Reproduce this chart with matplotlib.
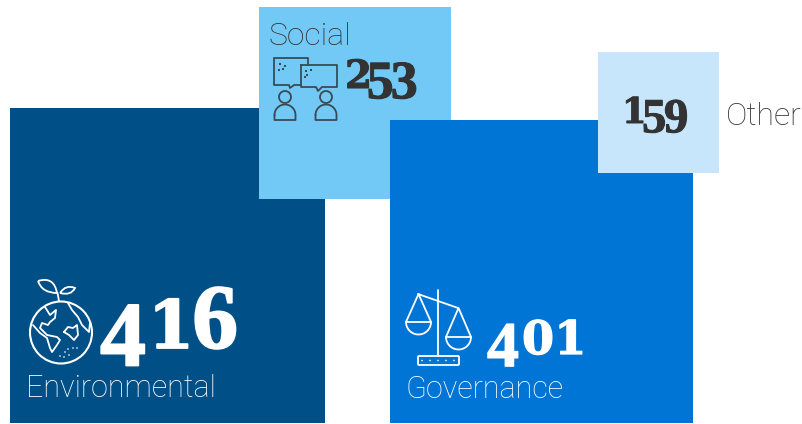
import numpy as np
import matplotlib
matplotlib.use('Agg')
import matplotlib.pyplot as plt
import matplotlib.patheffects as pe
from matplotlib.patches import Circle, Rectangle, FancyBboxPatch, PathPatch
from matplotlib.path import Path

categories = ['Environmental', 'Social', 'Governance', 'Other']
values = [416, 253, 401, 159]

colors = ['#005087', '#72C9F6', '#0075D6', '#C7E6FB']
label_colors = ['white', '#333333', 'white', '#333333']
number_colors = ['white', '#333333', 'white', '#333333']

W, H = 803, 424
PX_PER_UNIT = 0.757

# left edge and bottom edge of each square, in pixels from the top left
square_left = [10, 259, 389.6, 598.3]
square_bottom = [423, 199, 423.3, 172.7]

# label x, label baseline, font size
label_pos = [(26, 397, 22), (269, 45, 23), (406, 398, 22), (726, 125, 23)]
# number x, number baseline, number em in px, tracking
number_pos = [(100, 348, 92, 2), (345, 88, 54, -3), (487, 354, 64, 3), (622, 123, 49, -2.5)]

fig = plt.figure(figsize=(W / 100, H / 100), dpi=100)

# squares are drawn in value units
ax = fig.add_axes([0, 0, 1, 1])
ax.set_xlim(0, W / PX_PER_UNIT)
ax.set_ylim(0, H / PX_PER_UNIT)
ax.axis('off')
for i in range(len(values)):
    ax.bar(square_left[i] / PX_PER_UNIT, values[i], width=values[i],
           bottom=(H - square_bottom[i]) / PX_PER_UNIT, align='edge',
           color=colors[i], linewidth=0, zorder=i + 1)

# text and icons go on an overlay in pixels
ov = fig.add_axes([0, 0, 1, 1])
ov.set_xlim(0, W)
ov.set_ylim(H, 0)
ov.axis('off')
ov.patch.set_alpha(0)


def draw_number(value, x, base, em, track, color):
    # old style figures: 0 1 2 are short, 3 4 5 7 9 hang below the line
    thick = [pe.withStroke(linewidth=em / 70, foreground=color)]
    for d in str(value):
        if d in '012':
            size = em * 0.72
            ov.text(x, base, d, fontsize=size * 0.72, family='DejaVu Serif', fontweight='bold',
                    color=color, ha='left', va='baseline', path_effects=thick)
            x += size * 0.636 + track
        else:
            y = base + em * 0.19 if d in '34579' else base
            ov.text(x, y, d, fontsize=em * 0.72, family='Liberation Serif', fontweight='bold',
                    color=color, ha='left', va='baseline', path_effects=thick)
            x += em * 0.5 + track


for i in range(len(values)):
    lx, ly, fs = label_pos[i]
    ov.text(lx, ly, categories[i], family='Roboto', fontweight='light',
            fontsize=fs, color=label_colors[i], ha='left', va='baseline')
    n = number_pos[i]
    draw_number(values[i], n[0], n[1], n[2], n[3], number_colors[i])


def line(xs, ys, color, lw=1.3):
    ov.plot(xs, ys, color=color, lw=lw, solid_capstyle='round', solid_joinstyle='round')


def leaf(a, ctrl1, b, ctrl2, color):
    codes = [Path.MOVETO, Path.CURVE3, Path.CURVE3, Path.CURVE3, Path.CURVE3]
    ov.add_patch(PathPatch(Path([a, ctrl1, b, ctrl2, a], codes), fill=False, ec=color, lw=1.3))


# globe
c = 'white'
ov.add_patch(Circle((61, 332.5), 31, fill=False, ec=c, lw=1.5))
line([59, 57.5], [301, 293], c)
leaf((38, 281), (54, 276), (57, 293), (42, 293), c)
leaf((60, 293), (66, 284), (75, 288), (71, 296), c)
line([45, 50, 56, 55, 50, 48, 42, 40, 47, 57, 60, 57, 52, 50, 47, 40, 33],
     [307, 315, 310, 318, 322, 325, 323, 328, 335, 337, 340, 345, 352, 348, 338, 333, 325], c)
line([68, 72, 78, 82, 89, 90], [303, 310, 317, 325, 332, 323], c)
line([64, 68, 73, 77, 78, 74, 69, 64], [332, 327, 328, 325, 335, 340, 335, 332], c)
for p in [(60, 356), (65, 352), (69, 355), (73, 348), (77, 348), (68, 349), (64, 357)]:
    ov.add_patch(Circle(p, 0.8, color=c, lw=0))

# speech bubbles and two people
c = '#3a4a55'
line([301, 294, 290, 289, 274, 274, 308, 308], [85, 85, 88, 85, 85, 58, 58, 65], c)
line([301, 337, 337, 322, 318, 316, 301, 301], [65, 65, 87, 87, 91, 87, 87, 65], c)
for p in [(280, 64), (285, 66), (283, 69), (279, 70), (306, 71), (311, 70), (307, 75), (305, 77)]:
    ov.add_patch(Rectangle((p[0] - 0.6, p[1] - 0.6), 1.2, 1.2, color=c, lw=0))
for cx in [285, 326]:
    ov.add_patch(Circle((cx, 97), 6, fill=False, ec=c, lw=1.3))
    t = np.linspace(np.pi, 2 * np.pi, 30)
    xs = list(cx + 10.5 * np.cos(t)) + [cx + 10.5, cx - 10.5, cx - 10.5]
    ys = list(115 + 10.5 * np.sin(t)) + [120, 120, 115]
    line(xs, ys, c)

# scales
c = 'white'
line([438, 438], [290, 356], c)
line([418, 458], [294, 308], c)
for cx, top, y in [(418.5, 294, 322), (458.5, 308, 337)]:
    line([cx - 12.5, cx, cx + 12.5, cx - 12.5], [y, top, y, y], c)
    t = np.linspace(0, np.pi, 30)
    line(cx + 12.5 * np.cos(t), y + 12.5 * np.sin(t), c)
ov.add_patch(FancyBboxPatch((418, 356), 41, 9, boxstyle='round,pad=0,rounding_size=1', fill=False, ec=c, lw=1.3))
for x in [422, 430, 438, 446, 454]:
    ov.add_patch(Circle((x, 360.5), 0.8, color=c, lw=0))

fig.savefig('out.png', dpi=100)
